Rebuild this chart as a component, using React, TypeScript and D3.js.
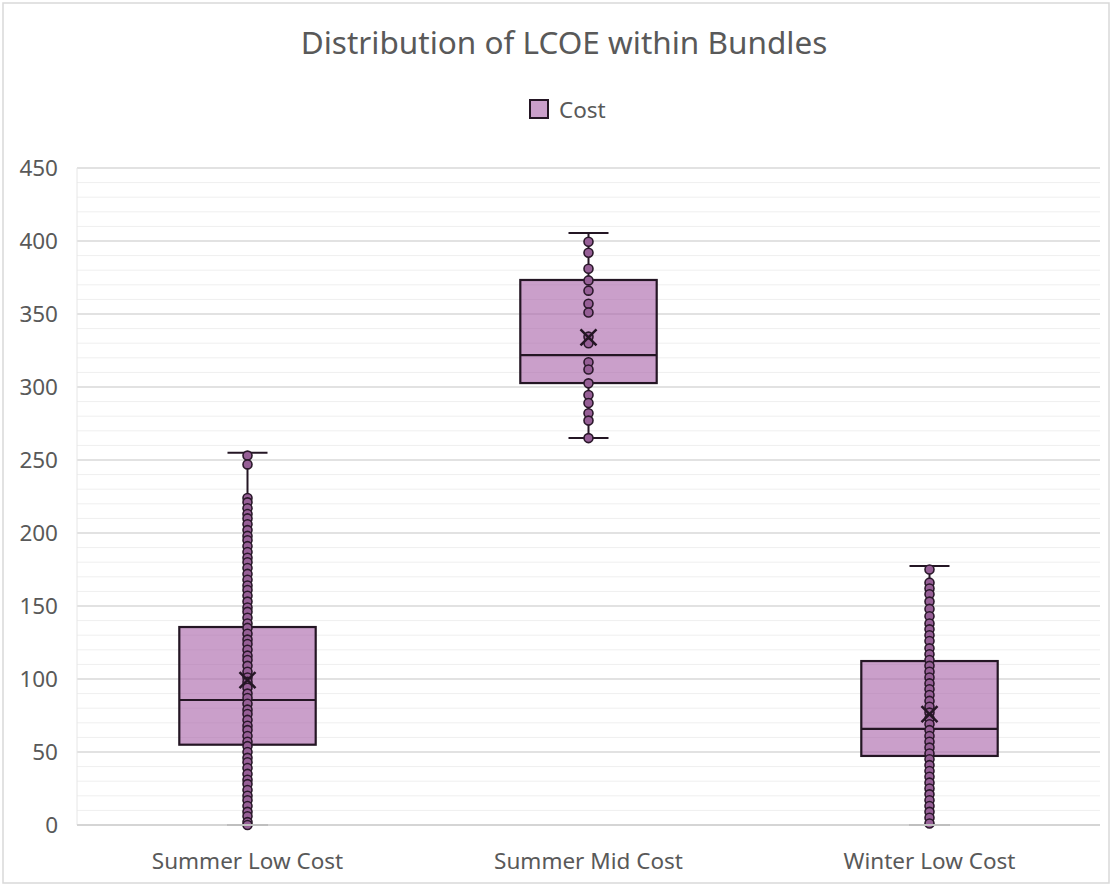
import React from "react";
import * as d3 from "d3";

const categories = ["Summer Low Cost", "Summer Mid Cost", "Winter Low Cost"];

const summerLowPoints = [253, 247, 224, 221, 217, 213, 210, 206, 202, 198, 195, 191, 187, 183, 180, 176, 172, 168, 164, 161, 157, 153, 149, 146, 142, 138, 135, 131, 127, 124, 120, 116, 113, 109, 105, 101, 98, 94, 90, 87, 83, 79, 76, 72, 68, 65, 61, 57, 54, 50, 46, 43, 39, 35, 31, 28, 24, 20, 17, 13, 9, 6, 2, 0];
const summerMidPoints = [399.5, 392, 381, 373, 366, 357, 351, 334.5, 330, 317, 312, 302.5, 294.5, 289, 282, 277, 265];
const winterLowPoints = [175, 166, 162, 158, 153, 148, 143, 138, 134, 130, 126, 121, 117, 113, 109, 105, 101, 97, 93, 89, 85, 81, 77, 73, 69, 65, 61, 57, 53, 49, 45, 41, 37, 33, 29, 25, 21, 17, 13, 9, 5, 1];

const whiskerLow = [0, 265, 0];
const q1Values = [55, 302.7, 47.3];
const medianValues = [85.6, 321.9, 65.8];
const q3Values = [135.6, 373.3, 112.3];
const whiskerHigh = [255, 405.5, 177.4];
const meanValues = [99.3, 334, 76];

const yTicks = [0, 50, 100, 150, 200, 250, 300, 350, 400, 450];
const minorTicks = d3.range(0, 451, 10);

const seriesName = "Cost";
const title = "Distribution of LCOE within Bundles";

const pointsByCategory = [summerLowPoints, summerMidPoints, winterLowPoints];

export default function App() {
  const W = 1112;
  const H = 886;
  const left = 77;
  const right = 1100;
  const top = 168;
  const bottom = 825;
  const y = d3.scaleLinear().domain([0, 450]).range([bottom, top]);
  const x = d3.scaleBand().domain(categories).range([left, right]);
  const bw = x.bandwidth();
  const boxW = bw * 0.4;
  const capW = 40;
  const font = "'Noto Sans', 'Open Sans', sans-serif";
  const textColor = "#595959";
  const boxStroke = "#241624";

  return (
    <svg
      width={W}
      height={H}
      style={{ position: "absolute", left: 0, top: 0, background: "#fff" }}
      fontFamily={font}
    >
      <rect x={3} y={3} width={W - 6} height={H - 6} fill="#fff" stroke="#d9d9d9" strokeWidth={1.5} />
      <text x={W / 2 + 8} y={54} textAnchor="middle" fontSize={31.5} fill={textColor}>
        {title}
      </text>
      {/* legend */}
      <rect x={530} y={100} width={18} height={18} fill="rgb(202,159,202)" stroke={boxStroke} strokeWidth={2} />
      <text x={559} y={118} fontSize={22.5} fill={textColor}>
        {seriesName}
      </text>
      {/* minor gridlines */}
      {minorTicks.filter((t) => t % 50 !== 0).map((t) => (
        <line key={"m" + t} x1={left} x2={right} y1={y(t)} y2={y(t)} stroke="#efefef" strokeWidth={1} />
      ))}
      {yTicks.map((t) => (
        <line key={"g" + t} x1={left} x2={right} y1={y(t)} y2={y(t)} stroke="#d9d9d9" strokeWidth={1.5} />
      ))}
      <line x1={left} x2={left} y1={top} y2={bottom} stroke="#e6e6e6" strokeWidth={1} />
      {yTicks.map((t) => (
        <text key={"t" + t} x={58} y={y(t) + 8} textAnchor="end" fontSize={22.5} fill={textColor}>
          {t}
        </text>
      ))}
      {categories.map((c, i) => {
        const cx = (x(c) as number) + bw / 2;
        return (
          <g key={c}>
            <line x1={cx} x2={cx} y1={y(whiskerHigh[i])} y2={y(q3Values[i])} stroke={boxStroke} strokeWidth={2} />
            <line x1={cx} x2={cx} y1={y(q1Values[i])} y2={y(whiskerLow[i])} stroke={boxStroke} strokeWidth={2} />
            <line x1={cx - capW / 2} x2={cx + capW / 2} y1={y(whiskerHigh[i])} y2={y(whiskerHigh[i])} stroke={boxStroke} strokeWidth={2} />
            <line x1={cx - capW / 2} x2={cx + capW / 2} y1={y(whiskerLow[i])} y2={y(whiskerLow[i])} stroke={boxStroke} strokeWidth={2} />
            <rect
              x={cx - boxW / 2}
              y={y(q3Values[i])}
              width={boxW}
              height={y(q1Values[i]) - y(q3Values[i])}
              fill="rgb(170,100,170)"
              fillOpacity={0.62}
              stroke={boxStroke}
              strokeWidth={2.2}
            />
            <line x1={cx - boxW / 2} x2={cx + boxW / 2} y1={y(medianValues[i])} y2={y(medianValues[i])} stroke={boxStroke} strokeWidth={2.2} />
            {pointsByCategory[i].map((v, j) => (
              <circle key={j} cx={cx} cy={y(v)} r={4.5} fill="rgb(150,95,150)" stroke="#2a182a" strokeWidth={1.6} />
            ))}
            <path
              d={`M${cx - 8},${y(meanValues[i]) - 8}L${cx + 8},${y(meanValues[i]) + 8}M${cx + 8},${y(meanValues[i]) - 8}L${cx - 8},${y(meanValues[i]) + 8}`}
              stroke="#241624"
              strokeWidth={2.5}
              fill="none"
            />
            <text x={cx} y={869} textAnchor="middle" fontSize={22.5} fill={textColor}>
              {c}
            </text>
          </g>
        );
      })}
      <line x1={left} x2={right} y1={bottom} y2={bottom} stroke="#d0d0d0" strokeWidth={1.5} />
      {categories.map((c, i) => {
        const cx = (x(c) as number) + bw / 2;
        return whiskerLow[i] === 0 ? (
          <line key={"bc" + i} x1={cx - capW / 2} x2={cx + capW / 2} y1={bottom} y2={bottom} stroke="#bfbfbf" strokeWidth={2} />
        ) : null;
      })}
    </svg>
  );
}
